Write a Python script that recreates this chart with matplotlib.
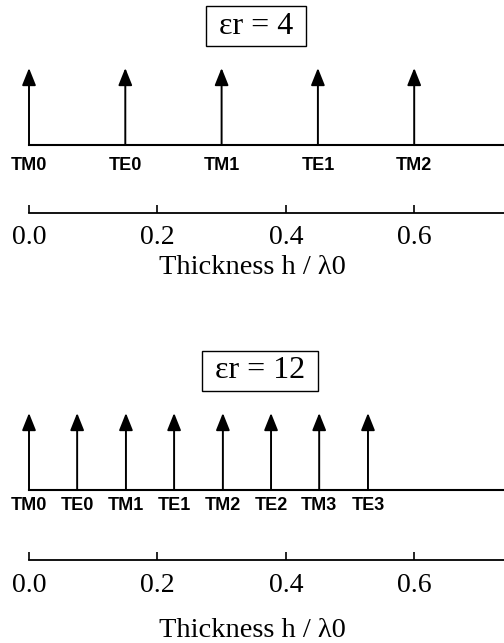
import matplotlib
matplotlib.use('Agg')
import matplotlib.pyplot as plt

# mode cutoffs (h / lambda0) for the two dielectric slabs
eps_top = 4
modes_top = ['TM0', 'TE0', 'TM1', 'TE1', 'TM2']
cutoff_top = [0.0, 0.15, 0.30, 0.45, 0.60]

eps_bot = 12
modes_bot = ['TM0', 'TE0', 'TM1', 'TE1', 'TM2', 'TE2', 'TM3', 'TE3']
cutoff_bot = [0.0, 0.075, 0.151, 0.226, 0.302, 0.377, 0.452, 0.528]

scale_ticks = [0.0, 0.2, 0.4, 0.6]
scale_labels = ['0.0', '0.2', '0.4', '0.6']

W, H = 504, 643
px = 642.0          # pixels per unit of h / lambda0
x0 = 29.0           # pixel position of h = 0
xmin, xmax = -x0 / px, (W - x0) / px

serif = 'Liberation Serif'
sans = 'Liberation Sans'


def panel(fig, top_px, line_px, eps, modes, cutoffs, box_x, box_y, base_y, tip_y,
          lab_y, xlabel_pad):
    h = line_px - top_px
    ax = fig.add_axes([0, (H - line_px) / H, 1, h / H])
    ax.set_xlim(xmin, xmax)
    ax.set_ylim(0, h)
    for s in ['top', 'left', 'right']:
        ax.spines[s].set_visible(False)
    ax.spines['bottom'].set_bounds(0, xmax)
    ax.spines['bottom'].set_linewidth(1.3)
    ax.set_yticks([])
    ax.set_xticks(scale_ticks)
    ax.set_xticklabels(scale_labels, fontfamily=serif, fontsize=20)
    ax.tick_params(axis='x', direction='in', length=5.5, width=1.2, pad=9)
    ax.set_xlabel('Thickness h / \u03bb0', fontfamily=serif, fontsize=20.5,
                  labelpad=xlabel_pad)
    ax.patch.set_visible(False)

    # baseline carrying the cutoff arrows
    ax.plot([cutoffs[0], xmax], [base_y, base_y], color='k', lw=1.5, clip_on=False)
    for x, name in zip(cutoffs, modes):
        ax.annotate('', xy=(x, tip_y), xytext=(x, base_y),
                    arrowprops=dict(arrowstyle='-|>,head_length=1.05,head_width=0.42',
                                    mutation_scale=10, lw=1.4, color='k',
                                    shrinkA=0, shrinkB=0))
        ax.text(x, lab_y, name, ha='center', va='center',
                fontfamily=sans, fontsize=13, fontweight='bold')

    ax.text((box_x - x0) / px, box_y, ' \u03b5r = %d ' % eps, ha='center', va='center',
            fontfamily=serif, fontsize=23,
            bbox=dict(boxstyle='square,pad=0.16', fc='white', ec='k', lw=1.0))
    return ax


fig = plt.figure(figsize=(W / 100, H / 100), dpi=100)
panel(fig, 0, 213, eps_top, modes_top, cutoff_top, 256, 187, 68, 145, 48, 3)
panel(fig, 320, 560, eps_bot, modes_bot, cutoff_bot, 260, 189, 70, 147, 55, 15)

fig.savefig('out.png', dpi=100)
